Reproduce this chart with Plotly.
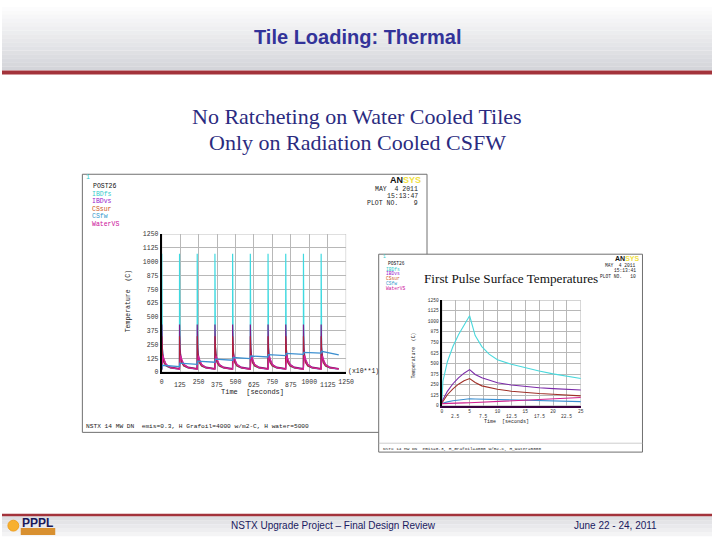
import plotly.graph_objects as go

W, H = 720, 540
def fx(x): return x / W
def fy(y): return 1 - y / H

# ---------------- data ----------------
# Left chart: 10 pulses, time axis in units of 10 s (x10**1)
pulse_starts = [0, 120, 240, 360, 480, 600, 720, 840, 960, 1080]
cycle_t     = [0, 0.5, 1.0, 1.5, 2.5, 4, 8, 15, 30, 60, 119.5]
ibdfs_cycle = [25, 1070, 540, 410, 320, 230, 140, 90, 55, 35, 28]
ibdvs_cycle = [25, 430, 360, 315, 270, 220, 160, 110, 70, 45, 32]
cssur_cycle = [25, 325, 280, 245, 200, 165, 120, 85, 55, 38, 30]
water_cycle = [25, 35, 45, 60, 95, 130, 150, 120, 70, 40, 28]
csfw_start  = [25, 50, 70, 90, 108, 123, 137, 150, 161, 172]
csfw_peak   = [62, 82, 100, 117, 132, 146, 158, 169, 179, 188]
csfw_end_t, csfw_end_v = 1200, 156

left_ticks = [0, 125, 250, 375, 500, 625, 750, 875, 1000, 1125, 1250]

# Right chart: first pulse, seconds
r_t     = [0, 0.2, 1, 2, 3, 4, 5, 6, 7.2, 8.5, 10, 12.5, 15, 17.5, 20, 22.5, 25]
r_ibdfs = [25, 290, 520, 700, 840, 960, 1065, 830, 700, 610, 543, 490, 446, 410, 377, 348, 322]
r_ibdvs = [25, 70, 170, 260, 330, 385, 427, 370, 330, 300, 272, 245, 225, 212, 202, 193, 186]
r_cssur = [25, 50, 130, 200, 255, 295, 322, 275, 235, 212, 194, 172, 155, 145, 136, 126, 116]
r_csfw  = [25, 30, 45, 58, 68, 76, 82, 80, 78, 75, 70, 65, 60, 56, 53, 50, 48]
r_water = [25, 25, 27, 29, 31, 33, 35, 38, 41, 45, 50, 57, 65, 72, 80, 88, 97]
right_ticks = [0, 2.5, 5, 7.5, 10, 12.5, 15, 17.5, 20, 22.5, 25]

temp_ticks = [0, 125, 250, 375, 500, 625, 750, 875, 1000, 1125, 1250]
series_names = ["IBDfs", "IBDvs", "CSsur", "CSfw", "WaterVS"]

# ---------------- helpers ----------------
def tile(vals):
    xs, ys = [], []
    for t0 in pulse_starts:
        for dt, v in zip(cycle_t, vals):
            xs.append(t0 + dt)
            ys.append(v)
    return xs, ys

def fmt(v):
    return ("%g" % v)

def even_text(vals):
    return [fmt(v) if i % 2 == 0 else "" for i, v in enumerate(vals)]

fig = go.Figure()

L_COL = {"IBDfs": "#3fd9e0", "IBDvs": "#7a1f8c", "CSsur": "#b0203a",
         "WaterVS": "#d4209a", "CSfw": "#3c8fd0"}
LEG_COL = {"IBDfs": "#33cccc", "IBDvs": "#9922cc", "CSsur": "#cc5522",
           "CSfw": "#3399cc", "WaterVS": "#cc1199"}

for name, vals in [("IBDfs", ibdfs_cycle), ("IBDvs", ibdvs_cycle),
                   ("CSsur", cssur_cycle), ("WaterVS", water_cycle)]:
    xs, ys = tile(vals)
    fig.add_trace(go.Scatter(x=xs, y=ys, mode="lines", name=name,
                             line=dict(color=L_COL[name], width=1.2),
                             xaxis="x", yaxis="y", showlegend=False))
cx, cy = [], []
for t0, s, p in zip(pulse_starts, csfw_start, csfw_peak):
    cx += [t0, t0 + 3]
    cy += [s, p]
cx.append(csfw_end_t)
cy.append(csfw_end_v)
fig.add_trace(go.Scatter(x=cx, y=cy, mode="lines", name="CSfw",
                         line=dict(color=L_COL["CSfw"], width=1.3),
                         xaxis="x", yaxis="y", showlegend=False))

R_COL = {"IBDfs": "#4ad8dc", "IBDvs": "#7b2aa8", "CSsur": "#a03028",
         "CSfw": "#3a8ed0", "WaterVS": "#d02090"}
for name, vals in [("IBDfs", r_ibdfs), ("IBDvs", r_ibdvs), ("CSsur", r_cssur),
                   ("CSfw", r_csfw), ("WaterVS", r_water)]:
    fig.add_trace(go.Scatter(x=r_t, y=vals, mode="lines", name=name,
                             line=dict(color=R_COL[name], width=1.1),
                             xaxis="x2", yaxis="y2", showlegend=False))

GRID = "#b8b8b8"
mono = "Liberation Mono"
axis_common = dict(showgrid=True, gridcolor=GRID, gridwidth=1, zeroline=False,
                   ticks="", showline=True, fixedrange=True)

fig.update_layout(
    width=W, height=H, margin=dict(l=0, r=0, t=0, b=0),
    paper_bgcolor="white", plot_bgcolor="rgba(0,0,0,0)",
    xaxis=dict(domain=[fx(162), fx(349)], range=[0, 1250], anchor="y",
               tickmode="array", tickvals=left_ticks, ticktext=even_text(left_ticks),
               tickangle=0, tickfont=dict(family=mono, size=6.5, color="#333"),
               ticklabelstandoff=2,
               linecolor="black", linewidth=1.5, **axis_common),
    yaxis=dict(domain=[fy(374), fy(234)], range=[0, 1250], anchor="x",
               tickmode="array", tickvals=temp_ticks, ticktext=[fmt(v) for v in temp_ticks],
               tickfont=dict(family=mono, size=6.5, color="#333"),
               linecolor="black", linewidth=2, **axis_common),
    xaxis2=dict(domain=[fx(446), fx(587)], range=[0, 25], anchor="y2",
                tickmode="array", tickvals=right_ticks, ticktext=even_text(right_ticks),
                tickangle=0, tickfont=dict(family=mono, size=4.6, color="#333"),
                linecolor="#3a0040", linewidth=2, **axis_common),
    yaxis2=dict(domain=[fy(408), fy(301)], range=[0, 1250], anchor="x2",
                tickmode="array", tickvals=temp_ticks, ticktext=[fmt(v) for v in temp_ticks],
                tickfont=dict(family=mono, size=4.6, color="#333"),
                linecolor="black", linewidth=2, **axis_common),
)

shapes = []
# header gradient
n = 17
for i in range(n):
    c0 = (255, 255, 255); c1 = (212, 213, 218)
    f = i / (n - 1)
    col = "rgb(%d,%d,%d)" % tuple(round(a + (b - a) * f) for a, b in zip(c0, c1))
    shapes.append(dict(type="rect", xref="paper", yref="paper", layer="below",
                       x0=0, x1=1, y0=fy(i * 4 + 4.2), y1=fy(i * 4), line=dict(width=0),
                       fillcolor=col))
shapes.append(dict(type="rect", xref="paper", yref="paper", layer="below",
                   x0=0, x1=1, y0=fy(72.5), y1=fy(68.5), line=dict(width=0), fillcolor="#a3333b"))
# footer gradient
m = 5
for i in range(m):
    c0 = (222, 222, 226); c1 = (244, 244, 245)
    f = i / (m - 1)
    col = "rgb(%d,%d,%d)" % tuple(round(a + (b - a) * f) for a, b in zip(c0, c1))
    shapes.append(dict(type="rect", xref="paper", yref="paper", layer="below",
                       x0=0, x1=1, y0=fy(520 + i * 4 + 4.2), y1=fy(520 + i * 4),
                       line=dict(width=0), fillcolor=col))
shapes.append(dict(type="rect", xref="paper", yref="paper", layer="below",
                   x0=0, x1=1, y0=fy(520), y1=fy(517.5), line=dict(width=0), fillcolor="#a3333b"))
# panel boxes
shapes.append(dict(type="rect", xref="paper", yref="paper", layer="below",
                   x0=fx(81.5), x1=fx(431), y0=fy(435), y1=fy(173.5),
                   line=dict(color="#707070", width=1), fillcolor="white"))
shapes.append(dict(type="rect", xref="paper", yref="paper", layer="below",
                   x0=fx(382), x1=fx(649.5), y0=fy(455), y1=fy(254.5),
                   line=dict(color="#707070", width=1), fillcolor="white"))
shapes.append(dict(type="line", xref="paper", yref="paper", layer="below",
                   x0=fx(382), x1=fx(649.5), y0=fy(446), y1=fy(446),
                   line=dict(color="#c0c0c0", width=0.8)))
# plot frames
shapes.append(dict(type="rect", xref="x", yref="y", layer="below",
                   x0=0, x1=1250, y0=0, y1=1250, line=dict(color=GRID, width=1)))
shapes.append(dict(type="rect", xref="x2", yref="y2", layer="below",
                   x0=0, x1=25, y0=0, y1=1250, line=dict(color=GRID, width=1)))
# PPPL logo sun
shapes.append(dict(type="circle", xref="paper", yref="paper", layer="above",
                   x0=fx(6), x1=fx(17), y0=fy(535), y1=fy(524),
                   line=dict(color="#f0a020", width=1), fillcolor="#f7b030"))
shapes.append(dict(type="rect", xref="paper", yref="paper", layer="above",
                   x0=fx(19), x1=fx(54), y0=fy(539), y1=fy(532),
                   line=dict(width=0), fillcolor="#d89030"))
fig.update_layout(shapes=shapes)

ann = []
def T(x, y, text, size, color="#222", family=mono, xanchor="left", angle=0, yanchor="middle"):
    ann.append(dict(x=fx(x), y=fy(y), xref="paper", yref="paper", text=text, showarrow=False,
                    font=dict(family=family, size=size, color=color), xanchor=xanchor,
                    yanchor=yanchor, textangle=angle))

# odd (second-row) x tick labels placed on the axes' own data coordinates
for i, v in enumerate(left_ticks):
    if i % 2 == 1:
        ann.append(dict(x=v, xref="x", y=fy(387.5), yref="paper", text=fmt(v), showarrow=False,
                        font=dict(family=mono, size=6.5, color="#333"), xanchor="center",
                        yanchor="middle"))
for i, v in enumerate(right_ticks):
    if i % 2 == 1:
        ann.append(dict(x=v, xref="x2", y=fy(418.5), yref="paper", text=fmt(v), showarrow=False,
                        font=dict(family=mono, size=4.6, color="#333"), xanchor="center",
                        yanchor="middle"))

T(360, 34, "<b>Tile Loading: Thermal</b>", 20, "#333399", "Liberation Sans", "center")
T(360, 115, "No Ratcheting on Water Cooled Tiles", 22, "#2b2b80", "Liberation Serif", "center")
T(360, 141, "Only on Radiation Cooled CSFW", 22, "#2b2b80", "Liberation Serif", "center")

# left panel texts
T(83, 177, "1", 6.5, "#33cccc")
T(90, 186, "POST26", 6.5, "#111")
ly = [194, 201.5, 209, 216.5, 224]
for nm, yy in zip(series_names, ly):
    T(89, yy, nm, 6.5, LEG_COL[nm])
T(427, 179, "<b>AN</b><b><span style='color:#f0e040'>SYS</span></b>", 9, "#111", "Liberation Sans", "right")
T(424, 189, "MAY  4 2011", 6.5, "#222", mono, "right")
T(424, 196, "15:13:47", 6.5, "#222", mono, "right")
T(424, 203.5, "PLOT NO.    9", 6.5, "#222", mono, "right")
T(128, 302, "Temperature  (C)", 6.5, "#222", mono, "center", -90)
T(254, 394.5, "Time  [seconds]", 7, "#222", mono, "center")
T(367, 373, "(x10**1)", 6.5, "#222", mono, "center")
T(83, 429, "NSTX 14 MW DN  emis=0.3, H Grafoil=4000 w/m2-C, H water=5000", 6.2, "#222", mono)

# right panel texts
T(384, 257, "1", 4.6, "#33cccc")
T(389, 263.5, "POST26", 4.6, "#111")
ry = [269.5, 274.5, 279.5, 284.5, 289.5]
for nm, yy in zip(series_names, ry):
    T(387, yy, nm, 4.6, LEG_COL[nm])
T(516, 279, "First Pulse Surface Temperatures", 13.2, "#111", "Liberation Serif", "center")
T(648, 259, "<b>AN</b><b><span style='color:#f0e040'>SYS</span></b>", 7, "#111", "Liberation Sans", "right")
T(645, 266, "MAY  4 2011", 4.6, "#222", mono, "right")
T(645, 271.5, "15:13:41", 4.6, "#222", mono, "right")
T(645, 277, "PLOT NO.   10", 4.6, "#222", mono, "right")
T(417, 357, "Temperature  (C)", 4.8, "#222", mono, "center", -90)
T(512, 424, "Time  [seconds]", 5, "#222", mono, "center")
T(384, 451.5, "NSTX 14 MW DN  emis=0.3, H_Grafoil=4000 w/m2-C, H_water=5000", 4.4, "#222", mono)

# footer
T(336, 529, "NSTX Upgrade Project \u2013 Final Design Review", 10, "#1a1a60", "Liberation Sans", "center")
T(622, 529, "June 22 - 24, 2011", 10, "#1a1a60", "Liberation Sans", "center")
T(36, 526.5, "<b>PPPL</b>", 12, "#1a1a5a", "Liberation Sans", "center")
fig.update_layout(annotations=ann)

fig.write_html("out.html")
